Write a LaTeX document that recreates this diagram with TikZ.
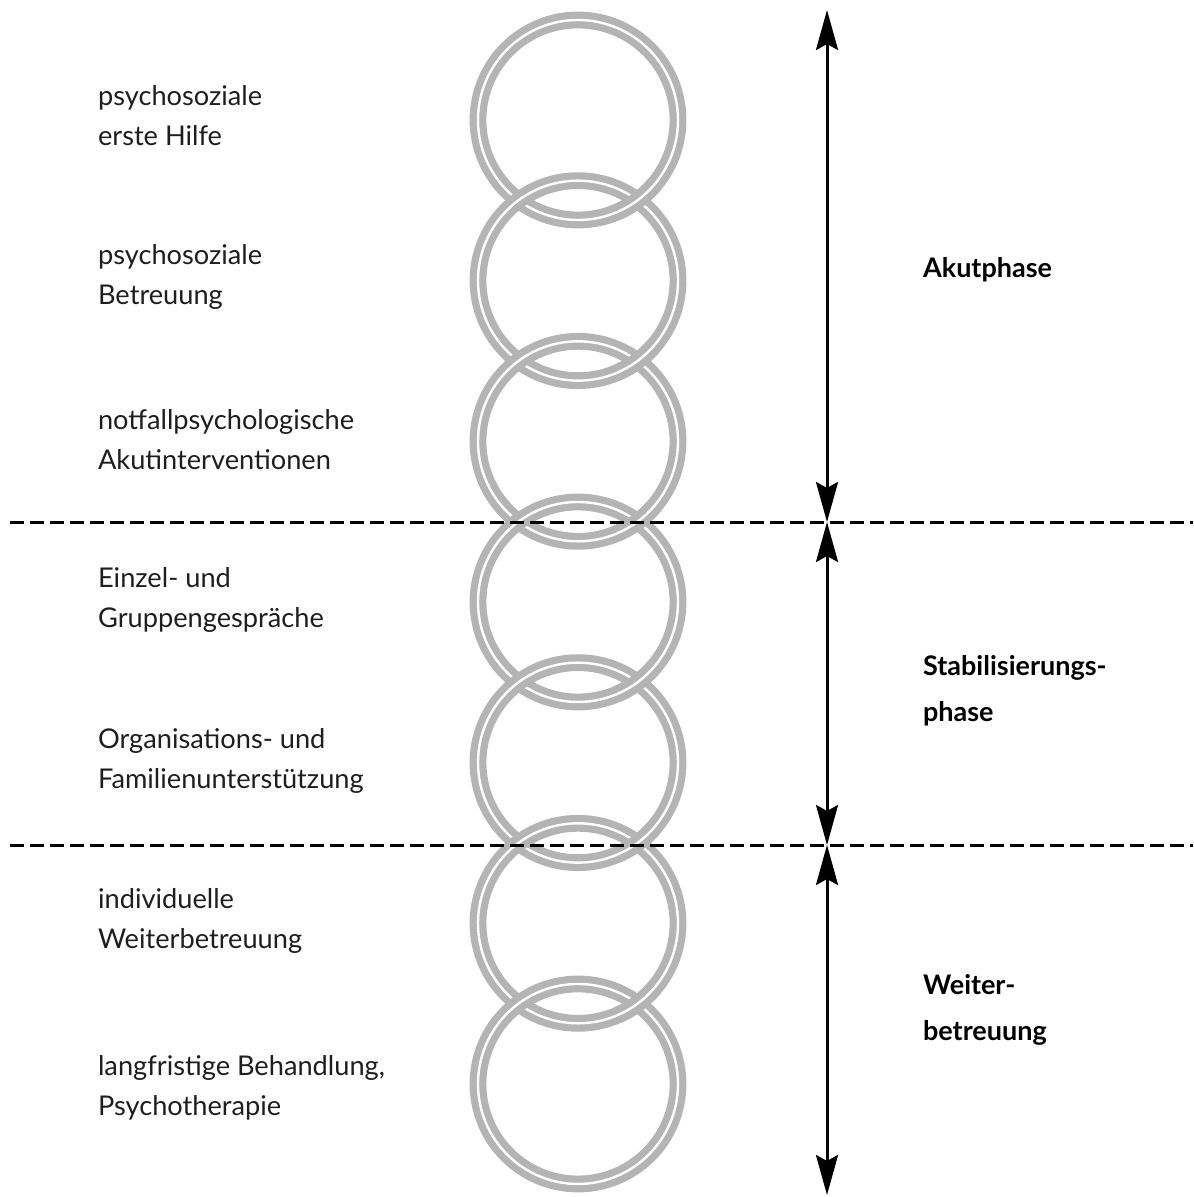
\documentclass[tikz,border=0pt]{standalone}
\usepackage{fontspec}
\setmainfont{Lato}
\usepackage{tikz}
\usetikzlibrary{arrows.meta}
\definecolor{ringgray}{RGB}{180,180,180}
\definecolor{textgray}{RGB}{30,30,30}
\newlength{\ChainLinkSep}
\setlength{\ChainLinkSep}{80.33pt}
\tikzset{/chain/link/.style={
	shape=circle, draw=ringgray, line width=3.6pt, double=white, double distance=1.2pt, minimum size=100pt, inner sep=0pt
}}
\tikzset{/chain/arc/.style={
	draw=ringgray, line width=3.6pt, double=white, double distance=1.2pt
}}
\tikzset{/chain/task/.style={anchor=west, align=left, text=textgray, font=\fontsize{13.6}{20}\selectfont
}}
\tikzset{/phase/name/.style={anchor=west, align=left, text=black, font=\fontsize{13.5}{23}\selectfont\bfseries
}}
\tikzset{/phase/cut/.style={draw=black, line width=1.5pt, dash pattern=on 7pt off 3pt}}
\tikzset{/phase/span/.style={draw=black, line width=1.5pt, {Stealth[length=20pt, width=11pt, inset=3pt]}-{Stealth[length=20pt, width=11pt, inset=3pt]}}}

\begin{document}
\begin{tikzpicture}
	\useasboundingbox (0,0) rectangle (596.5pt,-598.5pt);
	\coordinate (textcol) at (45.5pt,0);
	% chain of links
	\path (289pt,-60pt) node[/chain/link] (r1) {};
	\path (r1.center) ++ (0,-\ChainLinkSep) node[/chain/link] (r2) {};
	\path (r2.center) ++ (0,-\ChainLinkSep) node[/chain/link] (r3) {};
	\path (r3.center) ++ (0,-\ChainLinkSep) node[/chain/link] (r4) {};
	\path (r4.center) ++ (0,-\ChainLinkSep) node[/chain/link] (r5) {};
	\path (r5.center) ++ (0,-\ChainLinkSep) node[/chain/link] (r6) {};
	\path (r6.center) ++ (0,-\ChainLinkSep) node[/chain/link] (r7) {};
	\foreach \i in {1,...,6}
		\draw[/chain/arc] (r\i.center) ++ (-67:50pt) arc[start angle=-67, end angle=-40, radius=50pt];
	% tasks
	\path (r1.center -| textcol) ++ (0,2pt) node[/chain/task] (t1) {psychosoziale\\erste Hilfe};
	\path (r2.center -| textcol) ++ (0,2pt) node[/chain/task] (t2) {psychosoziale\\Betreuung};
	\path (r3.center -| textcol) ++ (0,1pt) node[/chain/task] (t3) {notfallpsychologische\\Akutinterventionen};
	\path (r4.center -| textcol) ++ (0,1pt) node[/chain/task] (t4) {Einzel- und\\Gruppengespräche};
	\path (r5.center -| textcol) ++ (0,1pt) node[/chain/task] (t5) {Organisations- und\\Familienunterstützung};
	\path (r6.center -| textcol) ++ (0,1pt) node[/chain/task] (t6) {individuelle\\Weiterbetreuung};
	\path (r7.center -| textcol) ++ (0,-2pt) node[/chain/task] (t7) {langfristige Behandlung,\\Psychotherapie};
	% phases
	\coordinate (cutL) at (5pt,-261pt);
	\coordinate (cutR) at (596.5pt,-261pt);
	\coordinate (cutL2) at (5pt,-422.5pt);
	\coordinate (cutR2) at (596.5pt,-422.5pt);
	\draw[/phase/cut] (cutL) -- (cutR);
	\draw[/phase/cut] (cutL2) -- (cutR2);
	\coordinate (aTop) at (413.5pt,-5pt);
	\coordinate (aCut1) at (413.5pt,-261pt);
	\coordinate (aCut2) at (413.5pt,-422.5pt);
	\coordinate (aBot) at (413.5pt,-597.5pt);
	\draw[/phase/span] (aTop) -- (aCut1);
	\draw[/phase/span] (aCut1) -- (aCut2);
	\draw[/phase/span] (aCut2) -- (aBot);
	\path (458pt,-135pt) node[/phase/name] (p1) {Akutphase};
	\path (458pt,-345.5pt) node[/phase/name] (p2) {Stabilisierungs-\\phase};
	\path (458pt,-505pt) node[/phase/name] (p3) {Weiter-\\betreuung};
\end{tikzpicture}
\end{document}
